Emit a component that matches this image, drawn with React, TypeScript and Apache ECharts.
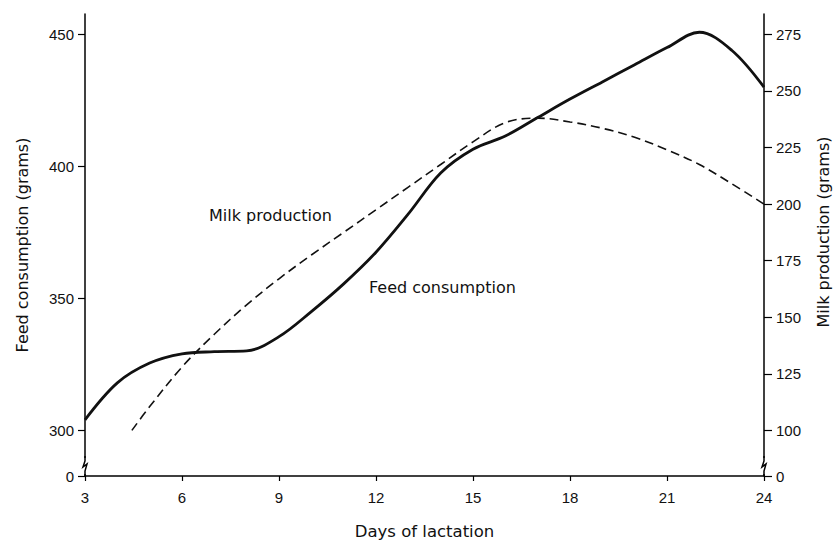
import React, { useEffect, useRef } from "react";
import * as echarts from "echarts";

const xTicks = [3, 6, 9, 12, 15, 18, 21, 24];
const leftTicks = [300, 350, 400, 450];
const rightTicks = [100, 125, 150, 175, 200, 225, 250, 275];

const feedDays = [3, 4, 5, 6, 7, 8, 9, 10, 11, 12, 13, 14, 15, 16, 17, 18, 19, 20, 21, 22, 23, 24];
const feedValues = [304, 318, 325.5, 329, 329.8, 330.1, 335.5, 345, 355.5, 367.5, 382, 397.5, 406.5, 411.5, 418.5, 425.5, 432, 438.5, 445, 450.8, 444, 430];

const milkDays = [4.45, 5, 6, 7, 8, 9, 10, 11, 12, 13, 14, 15, 16, 17, 18, 19, 20, 21, 22, 23, 24];
const milkValues = [100, 110.5, 128, 142.5, 155.5, 167, 177.5, 187.5, 197.5, 207.5, 217.5, 227.5, 236, 238, 236.3, 233.5, 229.5, 224, 217.5, 209, 200];

const LEFT_MIN = 282.72;
const LEFT_MAX = 457.72;
const RIGHT_MIN = 79.84;
const RIGHT_MAX = 284.0;

const NUM_FONT = "Liberation Sans, Arial, Helvetica, sans-serif";
const TXT_FONT = "DejaVu Sans, Verdana, sans-serif";

export default function App() {
  const ref = useRef<HTMLDivElement>(null);
  useEffect(() => {
    document.body.style.margin = "0";
    if (!ref.current) return;
    const chart = echarts.init(ref.current, null, { renderer: "svg" });
    const gl = 85, gr = 764, gt = 14, gb = 490;
    const brk = (x: number) => [
      { type: "rect", shape: { x: x - 2, y: 458, width: 4, height: 16 }, style: { fill: "#fff" }, z: 100 },
      {
        type: "polyline",
        shape: { points: [[x, 456], [x, 461], [x - 2, 467], [x + 2, 464], [x, 471], [x, 476]] },
        style: { stroke: "#000", lineWidth: 1.5, fill: "none" },
        z: 101,
      },
    ];
    chart.setOption({
      animation: false,
      backgroundColor: "#fff",
      grid: { left: gl, right: 838 - gr, top: gt, bottom: 545 - gb, containLabel: false },
      xAxis: {
        type: "value",
        min: 3,
        max: 24,
        interval: 3,
        name: "Days of lactation",
        nameLocation: "middle",
        nameGap: 47,
        nameTextStyle: { color: "#111", fontSize: 16.5, fontFamily: TXT_FONT },
        axisLine: { show: true, onZero: false, lineStyle: { color: "#000", width: 1.5 } },
        axisTick: { show: true, length: 5, lineStyle: { color: "#000", width: 1.2 }, customValues: xTicks },
        axisLabel: { color: "#111", fontSize: 15, fontFamily: NUM_FONT, margin: 14, customValues: xTicks },
        splitLine: { show: false },
      },
      yAxis: [
        {
          type: "value",
          position: "left",
          min: LEFT_MIN,
          max: LEFT_MAX,
          name: "Feed consumption (grams)",
          nameLocation: "middle",
          nameRotate: 90,
          nameGap: 55,
          nameTextStyle: { color: "#111", fontSize: 16, fontFamily: TXT_FONT },
          axisLine: { show: true, onZero: false, lineStyle: { color: "#000", width: 1.5 } },
          axisTick: { show: true, length: 7, lineStyle: { color: "#000", width: 1.2 }, customValues: [LEFT_MIN, ...leftTicks] },
          axisLabel: {
            color: "#111",
            fontSize: 15,
            fontFamily: NUM_FONT,
            margin: 11,
            customValues: [LEFT_MIN, ...leftTicks],
            formatter: (v: number) => (v < leftTicks[0] - 1 ? "0" : String(Math.round(v))),
          },
          splitLine: { show: false },
        },
        {
          type: "value",
          position: "right",
          min: RIGHT_MIN,
          max: RIGHT_MAX,
          axisLine: { show: true, onZero: false, lineStyle: { color: "#000", width: 1.5 } },
          axisTick: { show: true, length: 8, lineStyle: { color: "#000", width: 1.2 }, customValues: [RIGHT_MIN, ...rightTicks] },
          axisLabel: {
            color: "#111",
            fontSize: 15,
            fontFamily: NUM_FONT,
            margin: 12,
            customValues: [RIGHT_MIN, ...rightTicks],
            formatter: (v: number) => (v < rightTicks[0] - 1 ? "0" : String(Math.round(v))),
          },
          splitLine: { show: false },
        },
      ],
      series: [
        {
          name: "Feed consumption",
          type: "line",
          yAxisIndex: 0,
          data: feedDays.map((d, i) => [d, feedValues[i]]),
          showSymbol: false,
          smooth: 0.35,
          lineStyle: { color: "#111", width: 2.8 },
        },
        {
          name: "Milk production",
          type: "line",
          yAxisIndex: 1,
          data: milkDays.map((d, i) => [d, milkValues[i]]),
          showSymbol: false,
          smooth: 0.35,
          lineStyle: { color: "#111", width: 1.6, type: [9, 5] },
        },
      ],
      graphic: [
        ...brk(gl),
        ...brk(gr),
        {
          type: "text",
          x: 823,
          y: 232,
          rotation: Math.PI / 2,
          style: { text: "Milk production (grams)", fill: "#111", font: `16px ${TXT_FONT}`, align: "center", verticalAlign: "middle" },
        },
        { type: "text", x: 209, y: 215, style: { text: "Milk production", fill: "#111", font: `16px ${TXT_FONT}`, verticalAlign: "middle" } },
        { type: "text", x: 369, y: 287, style: { text: "Feed consumption", fill: "#111", font: `16px ${TXT_FONT}`, verticalAlign: "middle" } },
      ],
    });
    return () => chart.dispose();
  }, []);
  return <div ref={ref} style={{ width: 838, height: 545 }} />;
}
